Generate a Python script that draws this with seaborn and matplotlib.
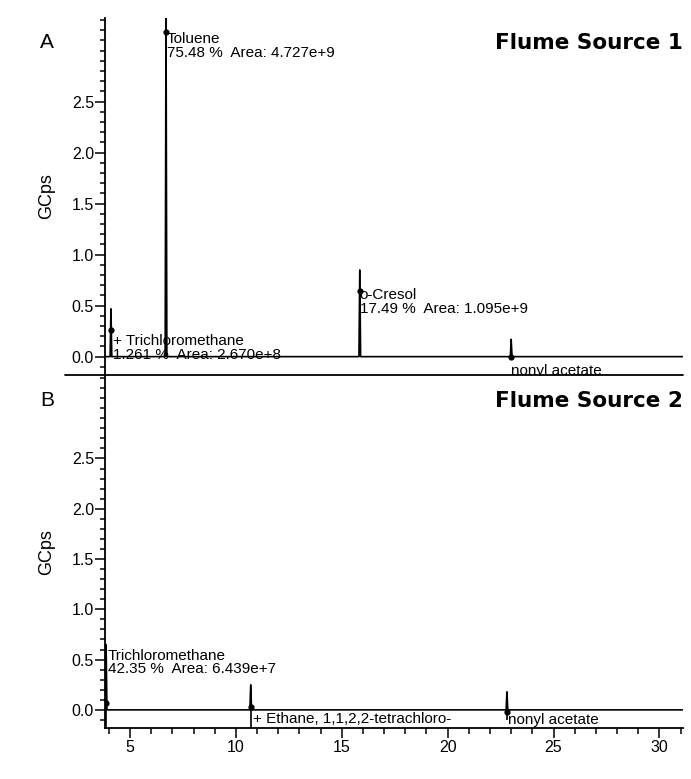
import numpy as np
import pandas as pd
import seaborn as sns
import matplotlib.pyplot as plt
from matplotlib.ticker import MultipleLocator

# Flume Source 1 (panel A): retention time (min), peak top (GCps), marker dot height
rt_a = [4.1, 6.7, 15.85, 23.0]
top_a = [0.47, 3.4, 0.85, 0.17]
dot_a = [0.26, 3.18, 0.64, 0.0]
names_a = ["+ Trichloromethane\n1.261 %  Area: 2.670e+8",
           "Toluene\n75.48 %  Area: 4.727e+9",
           "o-Cresol\n17.49 %  Area: 1.095e+9",
           "nonyl acetate"]

# Flume Source 2 (panel B)
rt_b = [3.87, 10.7, 22.8]
top_b = [0.65, 0.25, 0.18]
dot_b = [0.07, 0.03, -0.02]
names_b = ["Trichloromethane\n42.35 %  Area: 6.439e+7",
           "+ Ethane, 1,1,2,2-tetrachloro-",
           "nonyl acetate"]

x_ticks = [5, 10, 15, 20, 25, 30]
y_ticks = [0.0, 0.5, 1.0, 1.5, 2.0, 2.5]

# where each label's top-left sits (placement only)
label_pos_a = [(4.2, 0.22), (6.75, 3.18), (15.85, 0.67), (23.0, -0.07)]
label_pos_b = [(3.95, 0.61), (10.8, -0.02), (22.85, -0.03)]
marker_floor_a = [0.0, 0.0, 0.0, 0.0]
marker_floor_b = [-0.18, -0.18, -0.1]

XMIN, XMAX = 3.82, 31.1

sns.set_style("ticks")
plt.rcParams['font.family'] = ['Liberation Sans', 'DejaVu Sans']
plt.rcParams.update({'text.color': 'black', 'axes.labelcolor': 'black',
                     'xtick.color': 'black', 'ytick.color': 'black',
                     'axes.edgecolor': 'black'})


def trace(rts, tops):
    # baseline with a narrow spike at each peak
    xs, ys = [XMIN], [0.0]
    for rt, h in sorted(zip(rts, tops)):
        xs += [rt - 0.04, rt, rt + 0.04]
        ys += [0.0, h, 0.0]
    xs.append(XMAX)
    ys.append(0.0)
    return pd.DataFrame({'time': xs, 'signal': ys})


def draw_panel(ax, rts, tops, dots, names, label_pos, floors, letter, title):
    df = trace(rts, tops)
    sns.lineplot(data=df, x='time', y='signal', ax=ax, color='black',
                 linewidth=1.2, sort=False, estimator=None)
    ax.vlines(rts, floors, tops, color='black', linewidth=1.2)
    ax.scatter(rts, dots, s=12, color='black', zorder=3)
    for name, (lx, ly) in zip(names, label_pos):
        ax.text(lx, ly, name, ha='left', va='top', fontsize=11,
                linespacing=0.95)
    ax.set_xlim(XMIN, XMAX)
    ax.set_ylim(-0.18, 3.32)
    ax.set_yticks(y_ticks)
    ax.set_yticklabels([f"{v:.1f}" for v in y_ticks], fontsize=11.5)
    ax.yaxis.set_minor_locator(MultipleLocator(0.1))
    ax.tick_params(axis='y', which='major', length=7, width=1.1, pad=1)
    ax.tick_params(axis='y', which='minor', length=3.5, width=1.1)
    ax.set_ylabel("GCps", fontsize=13, labelpad=12)
    ax.set_xlabel("")
    for side in ['top', 'right']:
        ax.spines[side].set_visible(False)
    ax.spines['left'].set_linewidth(1.3)
    ax.spines['bottom'].set_linewidth(1.3)
    ax.text(-0.1, 0.93, letter, transform=ax.transAxes, fontsize=15,
            ha='center', va='center')
    ax.text(1.0, 0.93, title, transform=ax.transAxes, fontsize=15.5,
            fontweight='bold', ha='right', va='center', family='DejaVu Sans')


fig = plt.figure(figsize=(6.91, 7.79), dpi=100)
ax_a = fig.add_axes([0.152, 0.5186, 0.836, 0.4584])
ax_b = fig.add_axes([0.152, 0.0655, 0.836, 0.4518])

draw_panel(ax_a, rt_a, top_a, dot_a, names_a, label_pos_a, marker_floor_a,
           "A", "Flume Source 1")
draw_panel(ax_b, rt_b, top_b, dot_b, names_b, label_pos_b, marker_floor_b,
           "B", "Flume Source 2")

# panel A: no x ticks, its bottom rule runs out past the y axis
ax_a.set_xticks([])
ax_a.spines['bottom'].set_visible(False)
ax_a.plot([-0.07, 1.0], [0, 0], transform=ax_a.transAxes, color='black',
          linewidth=1.3, clip_on=False)

ax_b.set_xticks(x_ticks)
ax_b.set_xticklabels([str(v) for v in x_ticks], fontsize=11.5)
ax_b.xaxis.set_minor_locator(MultipleLocator(1))
ax_b.tick_params(axis='x', which='major', length=7, width=1.1, pad=2)
ax_b.tick_params(axis='x', which='minor', length=4, width=1.1)

fig.savefig("out.png", dpi=100)
